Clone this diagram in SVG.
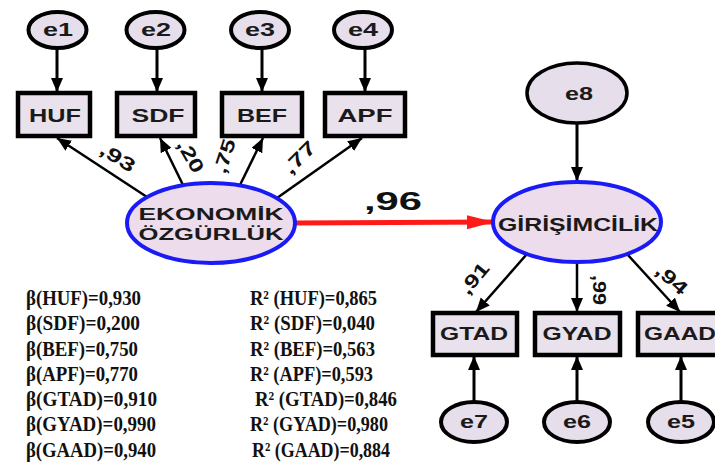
<svg xmlns="http://www.w3.org/2000/svg" width="715" height="467" viewBox="0 0 715 467">
<style>
.box{fill:#e9e1ec;stroke:#000;stroke-width:4.5}
.err{fill:#e6deeb;stroke:#000;stroke-width:4}
.lat{fill:#ecdcec;stroke:#1a1af5;stroke-width:4}
.lbl{font-family:"Liberation Sans",Arial,sans-serif;font-weight:bold;font-size:18px;fill:#1a1a1a;text-anchor:middle}
.ld{font-family:"Liberation Sans",Arial,sans-serif;font-weight:bold;font-size:19px;fill:#111;text-anchor:middle}
.st{font-family:"Liberation Serif","Times New Roman",serif;font-weight:bold;font-size:21px;fill:#111}
.ar{fill:none;stroke:#000;stroke-width:3}
.arl{fill:none;stroke:#000;stroke-width:2.5}
</style>
<defs>
<marker id="ah" markerUnits="userSpaceOnUse" markerWidth="16" markerHeight="14" refX="14" refY="6" orient="auto">
<path d="M0,0 L14,6 L0,12 Z" fill="#000"/>
</marker>
<marker id="ahr" markerUnits="userSpaceOnUse" markerWidth="30" markerHeight="16" refX="27" refY="7" orient="auto">
<path d="M0,0 L27,7 L0,14 Z" fill="#ff1a1a"/>
</marker>
</defs>
<rect width="715" height="467" fill="#fff"/>

<g id="connectors">
<line class="ar" x1="57" y1="48" x2="57" y2="92" marker-end="url(#ah)"/>
<line class="ar" x1="157" y1="48" x2="157" y2="92" marker-end="url(#ah)"/>
<line class="ar" x1="262" y1="48" x2="262" y2="92" marker-end="url(#ah)"/>
<line class="ar" x1="365" y1="48" x2="365" y2="92" marker-end="url(#ah)"/>
<line class="arl" x1="147" y1="197" x2="57" y2="138" marker-end="url(#ah)"/>
<line class="arl" x1="183" y1="185" x2="160" y2="138" marker-end="url(#ah)"/>
<line class="arl" x1="240" y1="185" x2="263" y2="138" marker-end="url(#ah)"/>
<line class="arl" x1="277" y1="198" x2="362" y2="138" marker-end="url(#ah)"/>
<line x1="295" y1="223" x2="494" y2="222" stroke="#ff1a1a" stroke-width="5" marker-end="url(#ahr)"/>
<line class="ar" x1="577" y1="123" x2="577" y2="181" marker-end="url(#ah)"/>
<line class="arl" x1="527" y1="254" x2="476" y2="312" marker-end="url(#ah)"/>
<line class="arl" x1="577" y1="262" x2="577" y2="312" marker-end="url(#ah)"/>
<line class="arl" x1="627" y1="254" x2="680" y2="312" marker-end="url(#ah)"/>
<line class="ar" x1="474" y1="402" x2="474" y2="356" marker-end="url(#ah)"/>
<line class="ar" x1="577" y1="402" x2="577" y2="356" marker-end="url(#ah)"/>
<line class="ar" x1="681" y1="402" x2="681" y2="356" marker-end="url(#ah)"/>
<text class="ld" transform="translate(118,157) rotate(32)" y="7" textLength="38" lengthAdjust="spacingAndGlyphs">,93</text>
<text class="ld" transform="translate(191,156) rotate(60)" y="7" textLength="35" lengthAdjust="spacingAndGlyphs">,20</text>
<text class="ld" transform="translate(224,156) rotate(-72)" y="7" textLength="35" lengthAdjust="spacingAndGlyphs">,75</text>
<text class="ld" transform="translate(299,157) rotate(-45)" y="7" textLength="38" lengthAdjust="spacingAndGlyphs">,77</text>
<text class="ld" style="font-size:25px" x="393" y="210" textLength="58" lengthAdjust="spacingAndGlyphs">,96</text>
<text class="ld" transform="translate(474,278) rotate(-50)" y="7" textLength="35" lengthAdjust="spacingAndGlyphs">,91</text>
<text class="ld" transform="translate(600,290) rotate(90)" y="7" textLength="30" lengthAdjust="spacingAndGlyphs">,99</text>
<text class="ld" transform="translate(672,279) rotate(42)" y="7" textLength="36" lengthAdjust="spacingAndGlyphs">,94</text>
</g>

<g id="e1"><ellipse class="err" cx="57.5" cy="30" rx="29" ry="18"/><text class="lbl" x="58" y="36" textLength="30" lengthAdjust="spacingAndGlyphs">e1</text></g>
<g id="e2"><ellipse class="err" cx="155.5" cy="30" rx="29" ry="18"/><text class="lbl" x="156" y="36" textLength="30" lengthAdjust="spacingAndGlyphs">e2</text></g>
<g id="e3"><ellipse class="err" cx="260" cy="30" rx="29" ry="18"/><text class="lbl" x="260" y="36" textLength="30" lengthAdjust="spacingAndGlyphs">e3</text></g>
<g id="e4"><ellipse class="err" cx="363" cy="30" rx="29" ry="18"/><text class="lbl" x="363" y="36" textLength="30" lengthAdjust="spacingAndGlyphs">e4</text></g>

<g id="HUF"><rect class="box" x="18" y="93" width="72" height="43"/><text class="lbl" x="55" y="122" textLength="52" lengthAdjust="spacingAndGlyphs">HUF</text></g>
<g id="SDF"><rect class="box" x="117" y="93" width="78" height="43"/><text class="lbl" x="158" y="122" textLength="53" lengthAdjust="spacingAndGlyphs">SDF</text></g>
<g id="BEF"><rect class="box" x="222" y="93" width="80" height="43"/><text class="lbl" x="262" y="122" textLength="50" lengthAdjust="spacingAndGlyphs">BEF</text></g>
<g id="APF"><rect class="box" x="325" y="93" width="80" height="43"/><text class="lbl" x="365" y="122" textLength="55" lengthAdjust="spacingAndGlyphs">APF</text></g>

<g id="ekonomik"><ellipse class="lat" cx="211" cy="223" rx="84" ry="40"/>
<text class="lbl" style="font-size:16px" x="211" y="220" textLength="145" lengthAdjust="spacingAndGlyphs">EKONOMİK</text>
<text class="lbl" style="font-size:16px" x="211" y="240" textLength="145" lengthAdjust="spacingAndGlyphs">ÖZGÜRLÜK</text></g>

<g id="e8"><ellipse class="err" cx="577" cy="93" rx="50" ry="30" style="stroke-width:3.5"/><text class="lbl" x="579" y="100" textLength="28" lengthAdjust="spacingAndGlyphs">e8</text></g>

<g id="girisimcilik"><ellipse class="lat" cx="577" cy="222" rx="84" ry="40"/>
<text class="lbl" x="578" y="231" textLength="160" lengthAdjust="spacingAndGlyphs">GİRİŞİMCİLİK</text></g>

<g id="GTAD"><rect class="box" x="433" y="313" width="84" height="42"/><text class="lbl" x="474" y="340" textLength="68" lengthAdjust="spacingAndGlyphs">GTAD</text></g>
<g id="GYAD"><rect class="box" x="535" y="313" width="85" height="42"/><text class="lbl" x="577" y="340" textLength="69" lengthAdjust="spacingAndGlyphs">GYAD</text></g>
<g id="GAAD"><rect class="box" x="638" y="313" width="86" height="42"/><text class="lbl" x="680" y="340" textLength="72" lengthAdjust="spacingAndGlyphs">GAAD</text></g>

<g id="e7"><ellipse class="err" cx="474" cy="422" rx="33" ry="20"/><text class="lbl" x="474" y="428" textLength="28" lengthAdjust="spacingAndGlyphs">e7</text></g>
<g id="e6"><ellipse class="err" cx="577" cy="422" rx="33" ry="20"/><text class="lbl" x="577" y="428" textLength="28" lengthAdjust="spacingAndGlyphs">e6</text></g>
<g id="e5"><ellipse class="err" cx="681" cy="422" rx="33" ry="20"/><text class="lbl" x="681" y="428" textLength="28" lengthAdjust="spacingAndGlyphs">e5</text></g>

<g id="stats">
<text class="st" x="26" y="305" textLength="115" lengthAdjust="spacingAndGlyphs">β(HUF)=0,930</text>
<text class="st" x="26" y="330" textLength="114" lengthAdjust="spacingAndGlyphs">β(SDF)=0,200</text>
<text class="st" x="26" y="356" textLength="112" lengthAdjust="spacingAndGlyphs">β(BEF)=0,750</text>
<text class="st" x="26" y="381" textLength="112" lengthAdjust="spacingAndGlyphs">β(APF)=0,770</text>
<text class="st" x="26" y="406" textLength="131" lengthAdjust="spacingAndGlyphs">β(GTAD)=0,910</text>
<text class="st" x="26" y="431" textLength="130" lengthAdjust="spacingAndGlyphs">β(GYAD)=0,990</text>
<text class="st" x="26" y="457" textLength="130" lengthAdjust="spacingAndGlyphs">β(GAAD)=0,940</text>
<text class="st" x="250" y="305" textLength="127" lengthAdjust="spacingAndGlyphs">R² (HUF)=0,865</text>
<text class="st" x="250" y="330" textLength="125" lengthAdjust="spacingAndGlyphs">R² (SDF)=0,040</text>
<text class="st" x="250" y="356" textLength="125" lengthAdjust="spacingAndGlyphs">R² (BEF)=0,563</text>
<text class="st" x="250" y="381" textLength="123" lengthAdjust="spacingAndGlyphs">R² (APF)=0,593</text>
<text class="st" x="255" y="406" textLength="142" lengthAdjust="spacingAndGlyphs">R² (GTAD)=0,846</text>
<text class="st" x="250" y="431" textLength="138" lengthAdjust="spacingAndGlyphs">R² (GYAD)=0,980</text>
<text class="st" x="252" y="457" textLength="138" lengthAdjust="spacingAndGlyphs">R² (GAAD)=0,884</text>
</g>
</svg>
